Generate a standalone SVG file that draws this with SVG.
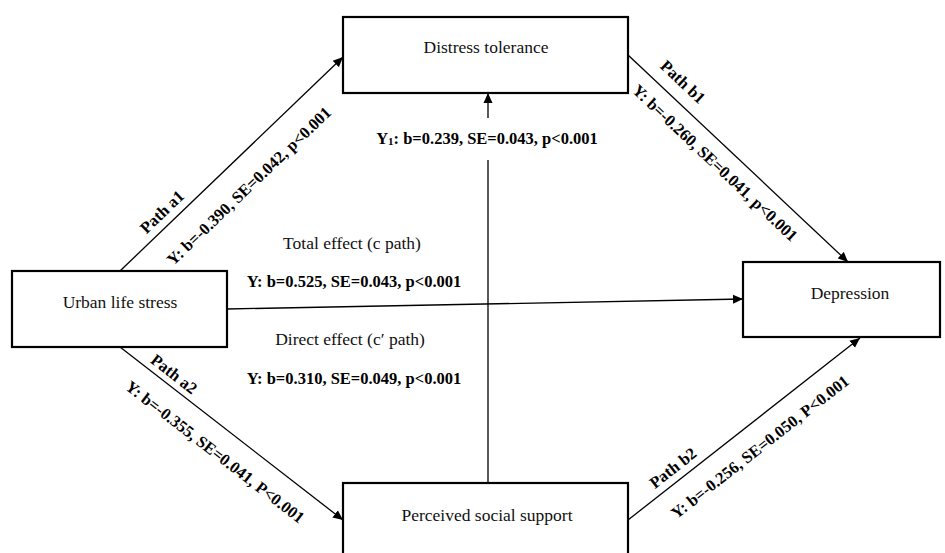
<svg xmlns="http://www.w3.org/2000/svg" width="945" height="553" viewBox="0 0 945 553">
<defs>
<marker id="ah" viewBox="0 0 10 10" refX="10" refY="5" markerWidth="10" markerHeight="10" markerUnits="userSpaceOnUse" orient="auto">
<path d="M0,0.5 L10,5 L0,9.5 z" fill="#000"/>
</marker>
<style>
.box{fill:#fff;stroke:#000;stroke-width:2.2}
.lbl{font-family:"Liberation Serif","DejaVu Serif",serif;font-size:17.5px;fill:#111;text-anchor:middle;dominant-baseline:central}
.b{font-family:"Liberation Serif","DejaVu Serif",serif;font-size:16.5px;font-weight:bold;fill:#000;text-anchor:middle;dominant-baseline:central}
.c{fill:none;stroke:#000;stroke-width:1.3;marker-end:url(#ah)}
</style>
</defs>
<rect width="945" height="553" fill="#fff"/>
<g id="connectors">
<path class="c" d="M120,271 L343,57"/>
<path class="c" d="M628,55 L848,262"/>
<path class="c" d="M227,309 L743,299"/>
<path class="c" d="M120,347 L343,520"/>
<path class="c" d="M628,520 L860,338"/>
<path class="c" d="M488,483 L488,160 M488,118 L488,93"/>
</g>
<g id="distress-tolerance">
<rect class="box" x="343" y="17" width="285" height="76"/>
<text class="lbl" x="486" y="47">Distress tolerance</text>
</g>
<g id="urban-life-stress">
<rect class="box" x="12" y="271" width="215" height="76"/>
<text class="lbl" x="120" y="302">Urban life stress</text>
</g>
<g id="depression">
<rect class="box" x="743" y="262" width="197" height="75"/>
<text class="lbl" x="850" y="293">Depression</text>
</g>
<g id="perceived-social-support">
<rect class="box" x="343" y="483" width="285" height="80"/>
<text class="lbl" x="487" y="515">Perceived social support</text>
</g>
<g id="labels">
<text class="lbl" x="352" y="243">Total effect (c path)</text>
<text class="b" x="354" y="281">Y: b=0.525, SE=0.043, p&lt;0.001</text>
<text class="lbl" x="350" y="339">Direct effect (c′ path)</text>
<text class="b" x="354" y="378">Y: b=0.310, SE=0.049, p&lt;0.001</text>
<text class="b" x="487" y="138">Y<tspan font-size="11" dy="3">1</tspan><tspan dy="-3">: b=0.239, SE=0.043, p&lt;0.001</tspan></text>
<text class="b" transform="translate(162,212) rotate(-43.8)">Path a1</text>
<text class="b" transform="translate(249,186) rotate(-43.8)">Y: b=-0.390, SE=0.042, p&lt;0.001</text>
<text class="b" transform="translate(683,82) rotate(43.3)">Path b1</text>
<text class="b" transform="translate(715,163) rotate(43.3)">Y: b=-0.260, SE=0.041, p&lt;0.001</text>
<text class="b" transform="translate(174,374) rotate(37.8)">Path a2</text>
<text class="b" transform="translate(215,452) rotate(37.8)">Y: b=-0.355, SE=0.041, P&lt;0.001</text>
<text class="b" transform="translate(673,468) rotate(-38.1)">Path b2</text>
<text class="b" transform="translate(760,447) rotate(-38.1)">Y: b=-0.256, SE=0.050, P&lt;0.001</text>
</g>
</svg>
